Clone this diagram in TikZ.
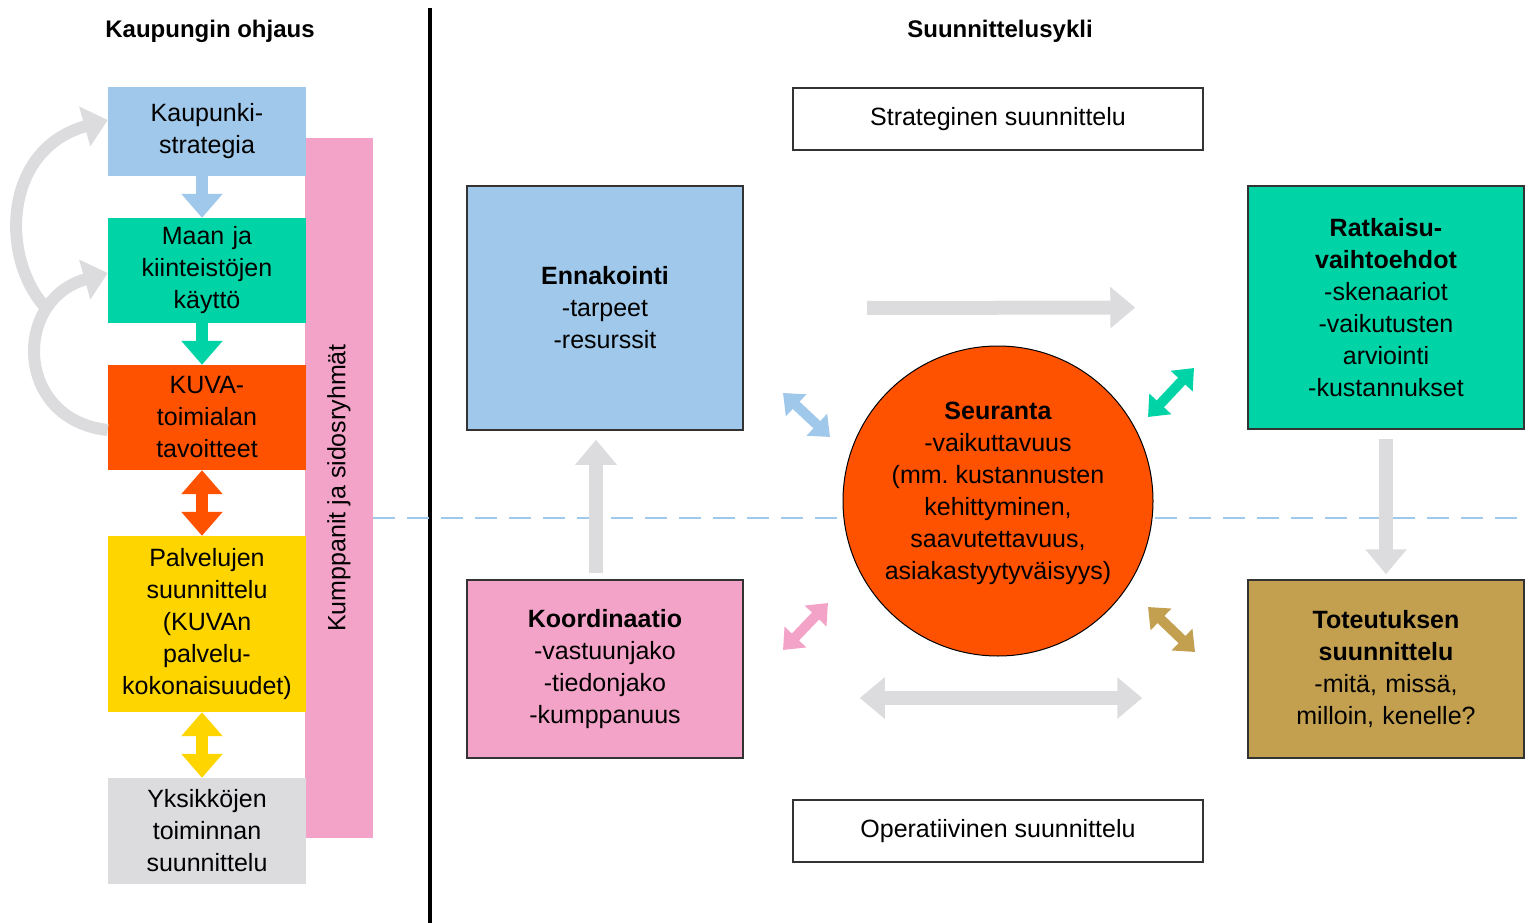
\documentclass[tikz,border=0pt]{standalone}
\usepackage{fontspec}
\setmainfont{Liberation Sans}
\usetikzlibrary{arrows.meta}
\definecolor{kblue}{HTML}{A0C8EA}
\definecolor{kteal}{HTML}{00D4A6}
\definecolor{korange}{HTML}{FF5200}
\definecolor{kyellow}{HTML}{FFD500}
\definecolor{kgray}{HTML}{DCDCDF}
\definecolor{kpink}{HTML}{F4A3C8}
\definecolor{kgold}{HTML}{C2A050}
\definecolor{kline}{HTML}{333333}
\begin{document}
\begin{tikzpicture}[x=1pt,y=-1pt,
every node/.style={font=\fontsize{25}{32}\selectfont, align=center, inner sep=0pt},
lbox/.style={minimum width=198pt, text width=198pt},
rbox/.style={draw=kline, line width=1.5pt, minimum width=276pt, text width=270pt},
plainbox/.style={draw=kline, line width=1.5pt, fill=white, minimum width=410pt, minimum height=62pt},
fatarrow/.style={line width=12pt, -{Triangle[length=24pt,width=40pt]}},
fatdbl/.style={line width=12pt, {Triangle[length=24pt,width=40pt]}-{Triangle[length=24pt,width=40pt]}},
arcarrow/.style={kgray, line width=12pt, -{Triangle[length=24pt,width=40pt]}},
grayarrow/.style={kgray, line width=14pt, -{Triangle[length=25pt,width=40pt]}},
graydbl/.style={kgray, line width=14pt, {Triangle[length=25pt,width=40pt]}-{Triangle[length=25pt,width=40pt]}},
smalldbl/.style={line width=10pt, {Triangle[length=18pt,width=29pt]}-{Triangle[length=18pt,width=29pt]}}]
\useasboundingbox (0,0) rectangle (1529,923);
\node[font=\bfseries\fontsize{24}{28}\selectfont] (ttl1) at (210,31){Kaupungin ohjaus};
\node[font=\bfseries\fontsize{24}{28}\selectfont] (ttl2) at (1000,31){Suunnittelusykli};
\draw[line width=4pt] (430,8) -- (430,923);
\draw[kblue, line width=1.5pt, dash pattern=on 22pt off 12pt] (373,518) -- (1529,518);
\node[fill=kpink, rotate=90, minimum width=700pt, minimum height=68pt] (kump) at (339,488){Kumppanit ja sidosryhmät};
\node[lbox, fill=kblue, minimum height=89pt] (kaup) at (207,131.5){Kaupunki-\\strategia};
\node[lbox, fill=kteal, minimum height=105pt] (maan) at (207,270.5){Maan ja\\kiinteistöjen\\käyttö};
\node[lbox, fill=korange, minimum height=105pt] (kuva) at (207,417.5){KUVA-\\toimialan\\tavoitteet};
\node[lbox, fill=kyellow, minimum height=176pt] (palv) at (207,624){Palvelujen\\suunnittelu\\(KUVAn\\palvelu-\\kokonaisuudet)};
\node[lbox, fill=kgray, minimum height=106pt] (yks) at (207,831){Yksikköjen\\toiminnan\\suunnittelu};
\coordinate (fork) at (50,312);
\draw[arcarrow] ([yshift=-12.5pt]kuva.west) .. controls (15,420) and (12,300) .. ([yshift=-2.5pt]maan.west);
\draw[arcarrow] (fork) .. controls (0,265) and (0,150) .. ([yshift=11.5pt]kaup.west);
\draw[fatarrow, kblue] ([xshift=-5pt]kaup.south) -- ([xshift=-5pt]maan.north);
\draw[fatarrow, kteal] ([xshift=-5pt]maan.south) -- ([xshift=-5pt]kuva.north);
\draw[fatdbl, korange] ([xshift=-5pt]kuva.south) -- ([xshift=-5pt]palv.north);
\draw[fatdbl, kyellow] ([xshift=-5pt]palv.south) -- ([xshift=-5pt]yks.north);
\node[plainbox] (strat) at (998,119){Strateginen suunnittelu};
\node[plainbox] (oper) at (998,831){Operatiivinen suunnittelu};
\node[rbox, fill=kblue, minimum height=244pt] (enn) at (605,308){\textbf{Ennakointi}\\-tarpeet\\-resurssit};
\node[rbox, fill=kpink, minimum height=178pt] (koord) at (605,669){\textbf{Koordinaatio}\\-vastuunjako\\-tiedonjako\\-kumppanuus};
\node[rbox, fill=kteal, minimum height=243pt] (ratk) at (1386,307.5){\textbf{Ratkaisu-}\\\textbf{vaihtoehdot}\\-skenaariot\\-vaikutusten\\arviointi\\-kustannukset};
\node[rbox, fill=kgold, minimum height=178pt] (tot) at (1386,669){\textbf{Toteutuksen}\\\textbf{suunnittelu}\\-mitä, missä,\\milloin, kenelle?};
\node[circle, draw=black, line width=1pt, fill=korange, minimum size=310pt] (seur) at (998,501){};
\node (seurt) at (998,493){\textbf{Seuranta}\\-vaikuttavuus\\(mm.\ kustannusten\\kehittyminen,\\saavutettavuus,\\asiakastyytyväisyys)};
\draw[grayarrow, shorten <=123pt, shorten >=112pt] (enn.east) -- (ratk.west);
\draw[graydbl, shorten <=116pt, shorten >=105pt] ([yshift=-29pt]koord.east) -- ([yshift=-29pt]tot.west);
\draw[grayarrow, shorten <=6pt, shorten >=9pt] ([xshift=-9pt]koord.north) -- ([xshift=-9pt]enn.south);
\draw[grayarrow, shorten <=9pt, shorten >=5pt] (ratk.south) -- (tot.north);
\coordinate (b1) at (783,393);
\coordinate (b2) at (830,437);
\coordinate (t1) at (1148,417);
\coordinate (t2) at (1194,368);
\coordinate (p1) at (783,650);
\coordinate (p2) at (828,603);
\coordinate (g1) at (1148,607);
\coordinate (g2) at (1195,652);
\draw[smalldbl, kblue] (b1) -- (b2);
\draw[smalldbl, kteal] (t1) -- (t2);
\draw[smalldbl, kpink] (p1) -- (p2);
\draw[smalldbl, kgold] (g1) -- (g2);
\end{tikzpicture}
\end{document}
